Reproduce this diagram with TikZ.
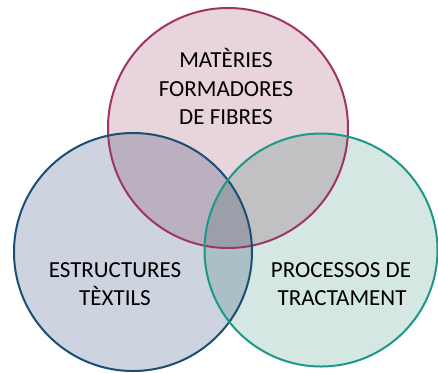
\documentclass[tikz,border=0pt]{standalone}
\usepackage{fontspec}
\setmainfont{Carlito}
\definecolor{topfill}{RGB}{232,213,220}
\definecolor{leftfill}{RGB}{205,211,223}
\definecolor{rightfill}{RGB}{213,231,227}
\definecolor{topline}{RGB}{158,52,104}
\definecolor{leftline}{RGB}{28,78,116}
\definecolor{rightline}{RGB}{28,152,136}
\tikzset{
  lbl/.style={align=center,font=\fontsize{23}{28.5}\selectfont,inner sep=0pt,anchor=base},
  ring/.style={line width=2pt}
}
\begin{document}
\begin{tikzpicture}[x=1pt,y=-1pt]
\useasboundingbox (0,0) rectangle (438,372);
\begin{scope}[blend mode=multiply]
\fill[topfill] (228,128) circle (120);
\fill[leftfill] (133,252) circle (119);
\fill[rightfill] (321,250) circle (116.5);
\end{scope}
\draw[ring,topline] (228,128) circle (120);
\draw[ring,leftline] (133,252) circle (119);
\draw[ring,rightline] (321,250) circle (116.5);
\node[lbl] (t1) at (226,67) {MATÈRIES};
\node[lbl] (t2) at (226,96) {FORMADORES};
\node[lbl] (t3) at (226,124) {DE FIBRES};
\node[lbl] (l1) at (115,277) {ESTRUCTURES};
\node[lbl] (l2) at (115,305) {TÈXTILS};
\node[lbl] (r1) at (341,277) {PROCESSOS DE};
\node[lbl] (r2) at (342,305) {TRACTAMENT};
\end{tikzpicture}
\end{document}
